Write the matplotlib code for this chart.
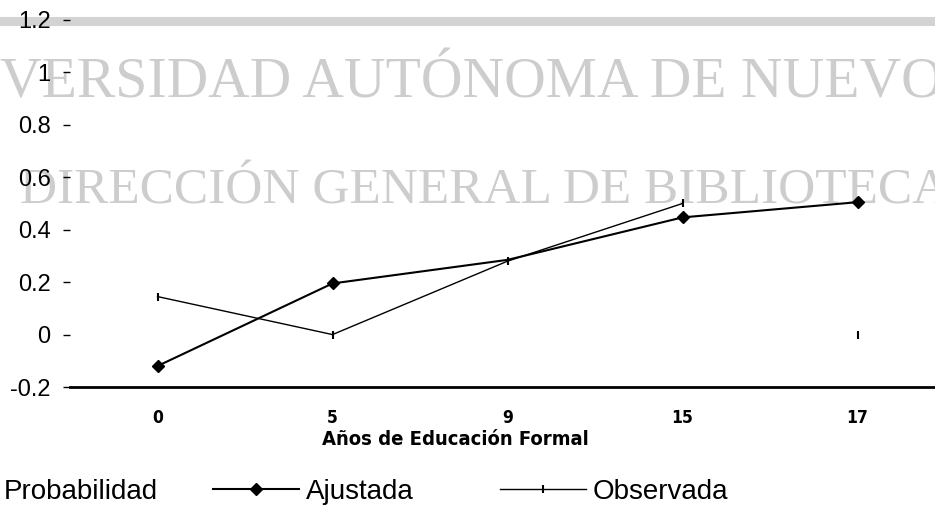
import numpy as np
import matplotlib
matplotlib.use("Agg")
import matplotlib.pyplot as plt
from matplotlib.lines import Line2D
from matplotlib import font_manager

# -------------------------------
# Data
# -------------------------------
categorias = ['0', '5', '9', '15', '17']
ajustada = [-0.12, 0.195, 0.285, 0.447, 0.505]
observada = [0.145, 0.0, 0.28, 0.50, 0.0]
ytick_vals = [-0.2, 0.0, 0.2, 0.4, 0.6, 0.8, 1.0, 1.2]
ytick_labels = ['-0.2', '0', '0.2', '0.4', '0.6', '0.8', '1', '1.2']

W, H = 935, 507
sans = 'Liberation Sans'
serif = 'Liberation Serif'


def narrow_bold(size):
    # a condensed bold face if one is installed, else plain bold
    for f in font_manager.fontManager.ttflist:
        low = f.fname.lower()
        if ('narrow' in f.name.lower() or 'condensed' in low) and f.weight in (700, 'bold') \
                and 'oblique' not in low and 'italic' not in low and 'mono' not in low \
                and 'serif' not in low.replace('sans', ''):
            return font_manager.FontProperties(fname=f.fname, size=size)
    return font_manager.FontProperties(family=sans, weight='bold', size=size * 0.9)


plt.rcParams['font.family'] = [sans, 'DejaVu Sans']

fig = plt.figure(figsize=(W / 100, H / 100), dpi=100)
fig.patch.set_facecolor('white')

# watermark of the scanned page (behind everything)
wm = '#cdcdcd'
fig.text(0 / W, 1 - 97 / H, 'VERSIDAD AUTÓNOMA DE NUEVO', family=serif, fontsize=41.5,
         color=wm, ha='left', va='baseline', zorder=-2)
fig.text(20 / W, 1 - 203 / H, 'DIRECCIÓN GENERAL DE BIBLIOTECA', family=serif, fontsize=37,
         color=wm, ha='left', va='baseline', zorder=-2)
# grey band at the top of the plot area
fig.add_artist(Line2D([0, 1], [1 - 20.5 / H] * 2, transform=fig.transFigure,
                      color='#d3d3d3', lw=6.5, zorder=-1))

ax = fig.add_axes([70 / W, 120 / H, 875 / W, 367 / H])
ax.patch.set_visible(False)

x = np.arange(len(categorias))
ax.plot(x, ajustada, color='black', lw=1.5, marker='D', ms=6.5,
        markevery=[0, 1, 3, 4], zorder=3)
ax.plot(x[:4], observada[:4], color='black', lw=1.0, zorder=2)
ax.plot(x, observada, ls='none', marker='|', ms=6, mew=1.5, color='black', zorder=2)

ax.set_xlim(-0.5, 4.5)
ax.set_ylim(-0.2, 1.2)
ax.set_yticks(ytick_vals)
ax.set_yticklabels(ytick_labels, fontsize=17)

ax.set_xticks(x)
ax.set_xticklabels(categorias, fontproperties=narrow_bold(12.5))
ax.tick_params(axis='y', direction='out', length=5, width=1, pad=9)
ax.tick_params(axis='x', length=0, pad=16)

for s in ['left', 'right', 'top']:
    ax.spines[s].set_visible(False)
ax.spines['bottom'].set_linewidth(2)

ax.set_xlabel('Años de Educación Formal', fontproperties=narrow_bold(14.5))
ax.xaxis.set_label_coords(0.441, -0.118)

# legend row
fig.text(158 / W, 15 / H, 'Probabilidad', fontsize=20, ha='right', va='center')
handles = [
    Line2D([], [], color='black', lw=1.5, marker='D', ms=6.5),
    Line2D([], [], color='black', lw=1.0, marker='|', ms=6, mew=1.5),
]
fig.legend(handles, ['Ajustada', 'Observada'], loc='center left',
           bbox_to_anchor=(213 / W, 15 / H), ncol=2, frameon=False, fontsize=20,
           handlelength=3.1, handletextpad=0.25, columnspacing=3.1,
           borderpad=0, borderaxespad=0, numpoints=1)

fig.savefig('out.png', dpi=100)
